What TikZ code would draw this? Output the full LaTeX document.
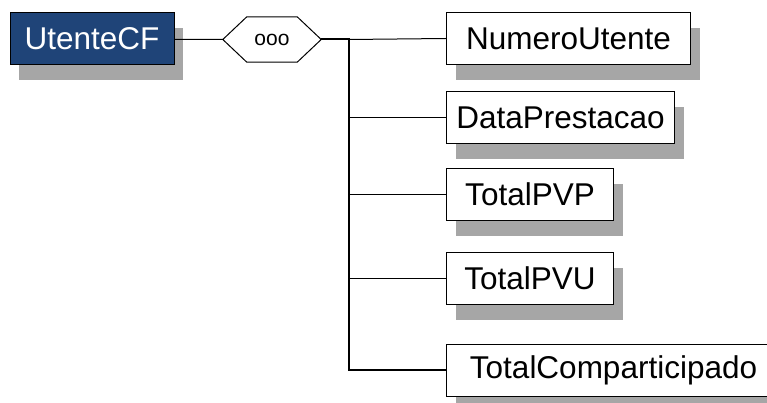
\documentclass[tikz,border=0pt]{standalone}
\usepackage{fontspec}
\setmainfont{Liberation Sans}
\usetikzlibrary{shadows}
\definecolor{cfblue}{RGB}{31,68,120}
\definecolor{shadowgray}{RGB}{166,166,166}
\tikzset{
	elembox/.style={draw=black, fill=white, shape=rectangle, line width=1pt, minimum height=52pt, inner sep=0pt,
		font=\fontsize{31.5}{36}\selectfont,
		drop shadow={shadow xshift=9pt, shadow yshift=-15.5pt, fill=shadowgray, opacity=1}},
	rootbox/.style={elembox, fill=cfblue, text=white},
	seqnode/.style={shape=rectangle, minimum width=98pt, minimum height=45pt, inner sep=0pt,
		font=\fontsize{21}{24}\selectfont},
	thinline/.style={line width=1pt},
	trunkline/.style={line width=2pt}
}

\begin{document}
\begin{tikzpicture}[x=1pt, y=-1pt]
	\useasboundingbox (0,0) rectangle (767,403);
	
	\node [rootbox, minimum width=164pt] (cf) at (92, 39) {UtenteCF};
	\node [seqnode] (seq) at (272, 39.5) {ooo};
	\draw [thinline] (seq.west) -- ([xshift=24pt]seq.north west) -- ([xshift=-24pt]seq.north east)
		-- (seq.east) -- ([xshift=-24pt]seq.south east) -- ([xshift=24pt]seq.south west) -- cycle;
	
	\node [elembox, anchor=west, minimum width=244pt] (num) at (446, 38.5) {NumeroUtente};
	\node [elembox, anchor=west, minimum width=228pt] (data) at (446, 118) {DataPrestacao};
	\node [elembox, anchor=west, minimum width=167pt] (pvp) at (446, 194.5) {TotalPVP};
	\node [elembox, anchor=west, minimum width=167pt] (pvu) at (446, 278.5) {TotalPVU};
	\node [elembox, anchor=west, minimum width=334pt] (comp) at (446, 370) {TotalComparticipado};
	
	\coordinate (trunk) at (349, 39.5);
	
	\draw [thinline] (cf) to (seq.west);
	\draw [trunkline] (seq.east) -- (trunk) |- (comp.west);
	
	\draw [thinline] (trunk) -- (num.west);
	\draw [thinline] (trunk |- data) -- (data.west);
	\draw [thinline] (trunk |- pvp) -- (pvp.west);
	\draw [thinline] (trunk |- pvu) -- (pvu.west);
	
\end{tikzpicture}
\end{document}
